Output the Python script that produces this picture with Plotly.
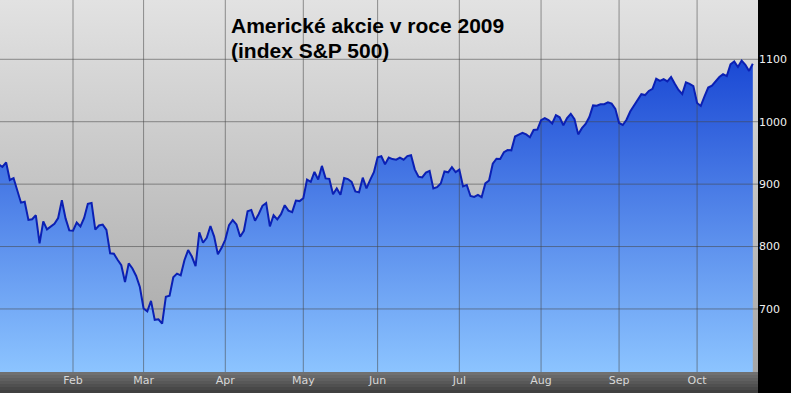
import plotly.graph_objects as go

# S&P 500 daily closes, 2009, one list per month
jan = [931.8, 927.5, 934.7, 906.7, 909.7, 890.4, 870.3, 871.8, 842.6, 843.7,
       850.1, 805.2, 840.2, 827.5, 832.0, 836.6, 845.7, 874.1, 845.1, 825.9]
feb = [825.4, 838.5, 832.2, 845.9, 868.6, 869.9, 827.2, 833.7, 835.2, 826.8,
       789.2, 788.4, 778.9, 770.1, 743.3, 773.1, 764.9, 752.8, 735.1]
mar = [700.8, 696.3, 712.9, 682.6, 683.4, 676.5, 719.6, 721.4, 750.7, 756.6,
       753.9, 778.1, 794.4, 784.0, 768.5, 822.9, 806.1, 813.9, 832.9, 815.9,
       787.5, 797.9]
apr = [811.1, 834.4, 842.5, 835.5, 815.6, 825.2, 856.6, 858.7, 841.5, 852.1,
       865.3, 869.6, 832.4, 850.1, 843.6, 851.9, 866.2, 857.5, 855.2, 873.6,
       872.8]
may = [877.5, 907.2, 903.8, 919.5, 907.4, 929.2, 909.2, 908.4, 883.9, 893.1,
       882.9, 909.7, 908.1, 903.5, 888.3, 887.0, 910.3, 893.1, 906.8, 919.1]
jun = [942.9, 944.7, 931.8, 942.5, 940.1, 939.1, 942.4, 939.2, 944.9, 946.2,
       923.7, 912.0, 910.7, 918.4, 921.2, 893.0, 895.1, 900.9, 920.3, 918.9,
       927.2, 919.3]
jul = [923.3, 896.4, 898.7, 881.0, 879.6, 882.7, 879.1, 901.1, 905.8, 932.7,
       940.7, 940.4, 951.1, 954.6, 954.1, 976.3, 979.3, 982.2, 979.6, 975.2,
       986.8, 987.5]
aug = [1002.6, 1005.7, 1002.7, 997.1, 1010.5, 1007.1, 994.4, 1005.8, 1012.7,
       1004.1, 979.7, 989.7, 996.5, 1007.4, 1026.1, 1025.6, 1028.0, 1028.1,
       1031.0, 1028.9, 1020.6]
sep = [998.0, 994.8, 1003.2, 1016.4, 1025.4, 1033.4, 1044.1, 1042.7, 1049.3,
       1052.6, 1068.8, 1065.5, 1068.3, 1064.7, 1071.7, 1060.9, 1050.8, 1044.4,
       1063.0, 1060.6, 1057.1]
oct_ = [1029.9, 1025.2, 1040.5, 1054.7, 1057.6, 1065.5, 1071.5, 1076.2,
        1073.2, 1092.0, 1096.6, 1087.7, 1097.9, 1091.1, 1081.4, 1092.9]

month_labels = ["Jan", "Feb", "Mar", "Apr", "May", "Jun", "Jul", "Aug", "Sep", "Oct"]
month_series = [jan, feb, mar, apr, may, jun, jul, aug, sep, oct_]
y_ticks = [700, 800, 900, 1000, 1100]
title_lines = ["Americké akcie v roce 2009", "(index S&P 500)"]

values = [v for m in month_series for v in m]
xs = list(range(len(values)))
starts = []
pos = 0
for m in month_series:
    starts.append(pos)
    pos += len(m)
tick_idx = starts[1:]
tick_txt = month_labels[1:]

x_range = [0.35, len(values) + 0.4]
y_range = [599, 1195]

fig = go.Figure()

# background gradient
fig.add_trace(go.Scatter(
    x=x_range, y=[y_range[1], y_range[1]], mode="none", fill="tozeroy",
    fillgradient=dict(type="vertical", colorscale=[[0, "#a6a6a6"], [1, "#e2e2e2"]],
                      start=y_range[0], stop=y_range[1]),
    hoverinfo="skip", showlegend=False))

# area fill
fig.add_trace(go.Scatter(
    x=xs, y=values, mode="none", fill="tozeroy",
    fillgradient=dict(type="vertical", colorscale=[[0, "#8cc4ff"], [1, "#1a48d4"]],
                      start=y_range[0], stop=1100),
    hoverinfo="skip", showlegend=False))

# grid lines above the fill
gx, gy = [], []
for t in tick_idx:
    gx += [t, t, None]
    gy += [y_range[0], y_range[1], None]
for t in y_ticks:
    gx += [x_range[0], x_range[1], None]
    gy += [t, t, None]
fig.add_trace(go.Scatter(x=gx, y=gy, mode="lines",
                         line=dict(color="rgba(70,70,70,0.55)", width=1),
                         hoverinfo="skip", showlegend=False))

# the line
fig.add_trace(go.Scatter(x=xs, y=values, mode="lines",
                         line=dict(color="#0b20b4", width=2),
                         hoverinfo="skip", showlegend=False))

# bottom axis band gradient
n = 7
band_h = 21 / 372
for k in range(n):
    c = int(0x70 - (0x70 - 0x40) * k / (n - 1))
    fig.add_shape(type="rect", xref="paper", yref="paper",
                  x0=0, x1=1, y0=-band_h * (k + 1) / n, y1=-band_h * k / n,
                  line=dict(width=0), fillcolor=f"rgb({c},{c},{c})", layer="below")

for i, (txt, ypx) in enumerate(zip(title_lines, [26, 50])):
    fig.add_annotation(text=txt, xref="paper", yref="paper",
                       x=229 / 758, y=1 - ypx / 372, xanchor="left", yanchor="middle",
                       showarrow=False,
                       font=dict(family="Liberation Sans", size=21, color="#000000"),
                       )

fig.update_layout(
    width=791, height=393,
    margin=dict(l=0, r=33, t=0, b=21),
    paper_bgcolor="#000000", plot_bgcolor="#c8c8c8",
    showlegend=False,
    xaxis=dict(range=x_range, tickvals=tick_idx, ticktext=tick_txt,
               showgrid=False, zeroline=False, ticks="", showline=False,
               tickfont=dict(family="DejaVu Sans", size=11, color="#d8d8d8"),
               fixedrange=True),
    yaxis=dict(range=y_range, side="right", tickvals=y_ticks,
               ticktext=[str(t) for t in y_ticks],
               showgrid=False, zeroline=False, ticks="", showline=False,
               tickfont=dict(family="DejaVu Sans", size=11, color="#f0f0f0"),
               fixedrange=True),
)
fig.update_annotations(font_weight="bold") if hasattr(fig.layout.annotations[0].font, "weight") else None
for a in fig.layout.annotations:
    a.text = "<b>" + a.text + "</b>"

fig.write_html("out.html", config={"displayModeBar": False})
